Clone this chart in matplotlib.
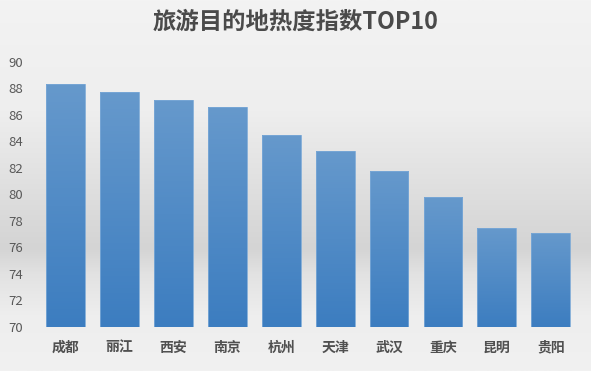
import numpy as np
import matplotlib
matplotlib.use("Agg")
import matplotlib.pyplot as plt
from matplotlib.colors import LinearSegmentedColormap

plt.rcParams["font.family"] = ["Noto Sans CJK SC", "DejaVu Sans"]

cities = ["成都", "丽江", "西安", "南京", "杭州", "天津", "武汉", "重庆", "昆明", "贵阳"]
heat_index = [88.3, 87.7, 87.1, 86.6, 84.5, 83.3, 81.8, 79.8, 77.5, 77.1]
y_ticks = [70, 72, 74, 76, 78, 80, 82, 84, 86, 88, 90]
title = "旅游目的地热度指数TOP10"

fig = plt.figure(figsize=(5.95, 3.71), dpi=100)

# background gradient (light -> gray -> light)
bg = fig.add_axes([0, 0, 0.992, 1], zorder=-10)
bg_cmap = LinearSegmentedColormap.from_list(
    "bg", [(0, "#f3f3f3"), (0.3, "#eeeeee"), (0.58, "#dadada"), (0.67, "#d4d4d4"),
           (0.74, "#e2e2e2"), (0.85, "#eeeeee"), (1, "#f1f1f1")])
bg.imshow(np.linspace(0, 1, 256).reshape(-1, 1), aspect="auto", cmap=bg_cmap,
          extent=[0, 1, 1, 0])
bg.set_axis_off()

ax = fig.add_axes([0.065, 0.119, 0.906, 0.714])
ax.patch.set_alpha(0)

x = np.arange(len(cities))
bars = ax.bar(x, heat_index, width=0.72, bottom=0, color="none",
              edgecolor="#7aa8d6", linewidth=0.6, zorder=3)

ax.set_ylim(70, 90)
ax.set_xlim(-0.5, len(cities) - 0.5)

# vertical gradient fill inside each bar
bar_cmap = LinearSegmentedColormap.from_list("bar", ["#3c7dc0", "#6699cc"])
grad = np.linspace(0, 1, 256).reshape(-1, 1)
for rect in bars:
    x0 = rect.get_x()
    w = rect.get_width()
    h = rect.get_height()
    im = ax.imshow(grad, aspect="auto", cmap=bar_cmap, origin="lower",
                   extent=[x0, x0 + w, 70, h], zorder=2)
    im.set_clip_path(rect)

ax.set_yticks(y_ticks)
ax.set_xticks(x)
ax.set_xticklabels(cities, fontsize=10, fontweight="bold", color="#505050")
ax.tick_params(axis="y", labelsize=9.5, colors="#595959", length=0, pad=11)
ax.tick_params(axis="x", length=0, pad=10)
for s in ax.spines.values():
    s.set_visible(False)

fig.text(0.497, 0.94, title, ha="center", va="center", fontsize=16.8,
         fontweight="bold", color="#4a4a4a")

fig.savefig("out.png", dpi=100)
